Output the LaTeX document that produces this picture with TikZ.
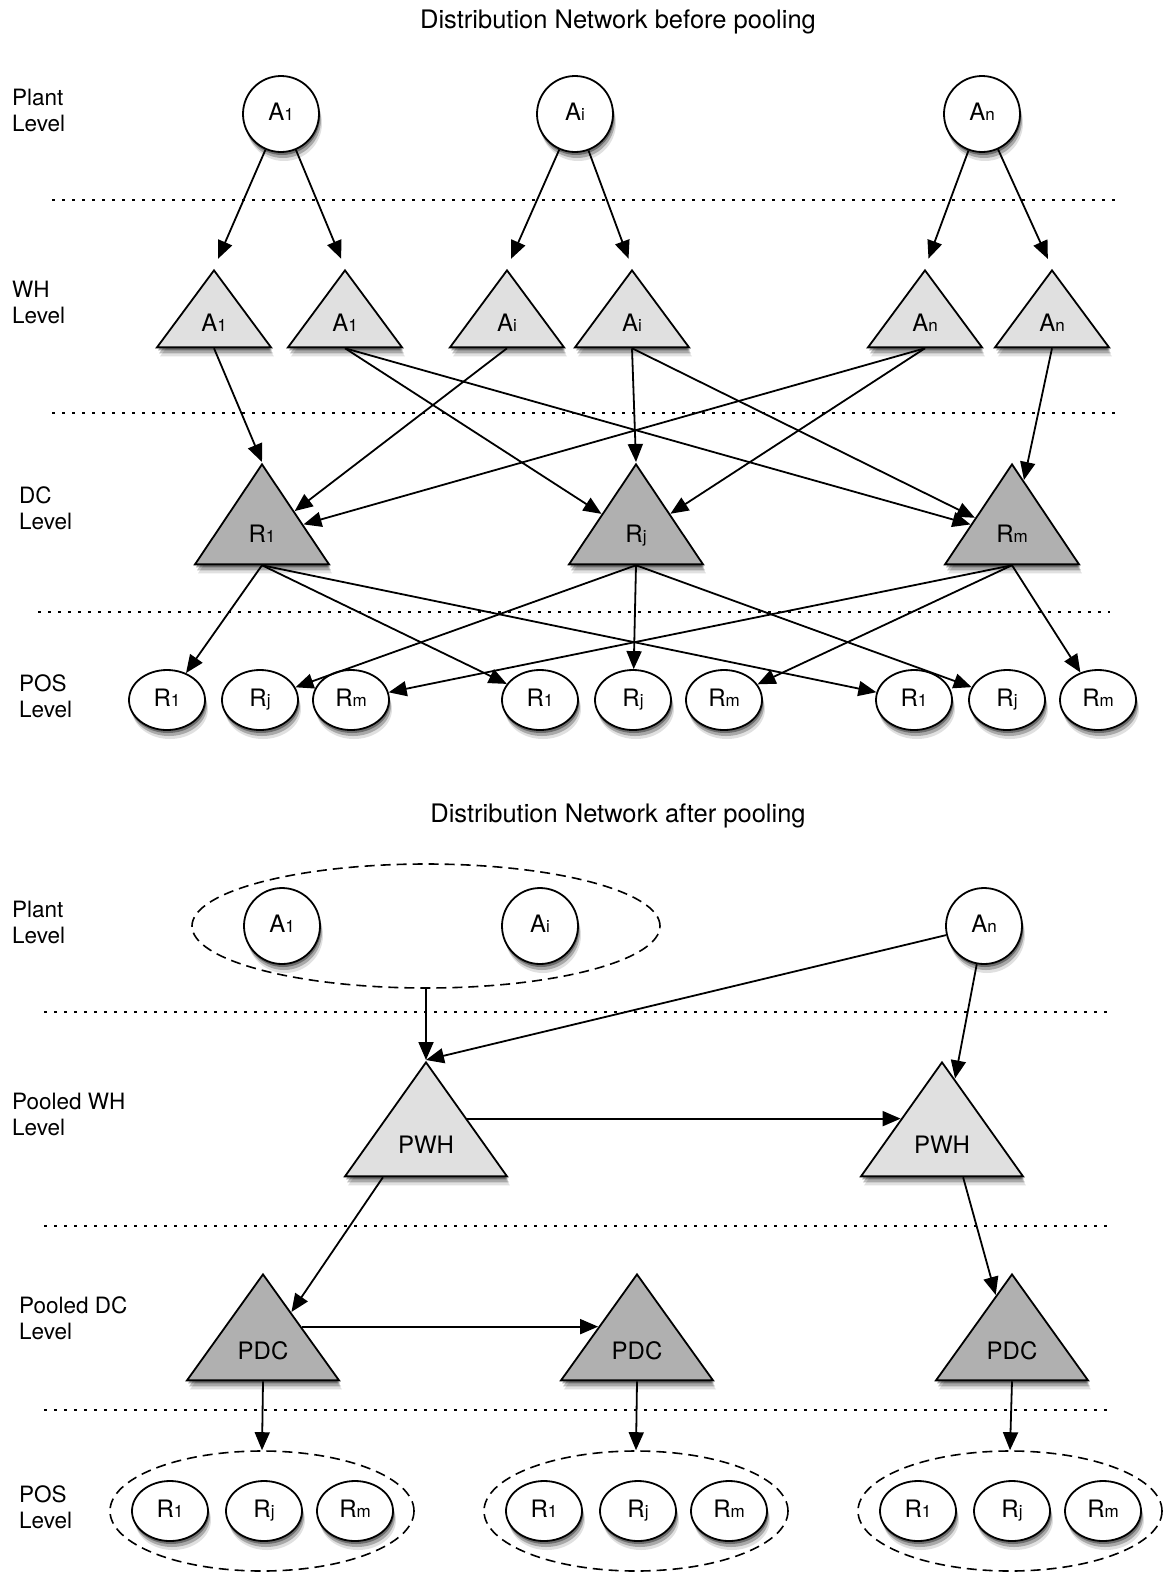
\documentclass[tikz,border=0pt]{standalone}
\usepackage{fontspec}
\setmainfont{TeX Gyre Heros}
\usetikzlibrary{shapes.geometric,shadows,arrows.meta}
\newcommand\ix[1]{{\fontsize{17}{17}\selectfont #1}}
\tikzset{
  shadowed/.style={drop shadow={shadow xshift=1pt,shadow yshift=-3pt,opacity=0.35,fill=black},
    drop shadow={shadow xshift=2pt,shadow yshift=-6pt,opacity=0.25,fill=black},
    drop shadow={shadow xshift=3pt,shadow yshift=-9pt,opacity=0.12,fill=black}},
  plant/.style={circle,draw,fill=white,line width=1.8pt,minimum size=76pt,inner sep=0pt,shadowed,
    text height=17pt,text depth=5pt,font=\fontsize{24}{28}\selectfont},
  shop/.style={ellipse,draw,fill=white,line width=1.8pt,minimum width=76pt,minimum height=60pt,inner sep=0pt,shadowed,
    text height=17pt,text depth=5pt,font=\fontsize{24}{28}\selectfont},
  tri/.style={isosceles triangle,isosceles triangle stretches,shape border rotate=90,draw,line width=1.8pt,inner sep=0pt,
    anchor=apex,shadowed,text height=17pt,text depth=5pt,text width=40pt,align=center,font=\fontsize{24}{28}\selectfont},
  wh/.style={tri,fill=black!12,minimum width=114pt,minimum height=77pt},
  dc/.style={tri,fill=black!31,minimum width=134pt,minimum height=100pt},
  pwh/.style={tri,fill=black!12,text width=60pt,minimum width=162pt,minimum height=114pt},
  pdc/.style={tri,fill=black!31,text width=60pt,minimum width=152pt,minimum height=106pt},
  group/.style={ellipse,draw,line width=1.6pt,dash pattern=on 10pt off 6pt},
  lvl/.style={anchor=west,align=left,inner sep=0pt,font=\fontsize{22.5}{26}\selectfont},
  title/.style={inner sep=0pt,font=\fontsize{25.5}{28}\selectfont},
  sepline/.style={line width=2pt,dash pattern=on 2.5pt off 7.5pt},
  arr/.style={line width=1.8pt,-{Triangle[length=18pt,width=15pt]}}
}
\begin{document}
\begin{tikzpicture}[x=1pt,y=-1pt]
\useasboundingbox (0,0) rectangle (1166,1575);
% before pooling
\node[title] (t1) at (618,22) {Distribution Network before pooling};
\node[lvl] (l1) at (12,110) {Plant\\Level};
\node[lvl] (l2) at (12,302) {WH\\Level};
\node[lvl] (l3) at (19,508) {DC\\Level};
\node[lvl] (l4) at (19,696) {POS\\Level};
\foreach \y in {200,413} \draw[sepline] (52,\y) -- (1122,\y);
\draw[sepline] (38,612) -- (1110,612);
\node[plant] (a1) at (281,114) {A\ix{1}};
\node[plant] (ai) at (575,114) {A\ix{i}};
\node[plant] (an) at (982,114) {A\ix{n}};
\node[wh] (wh1) at (214,268) {A\ix{1}};
\node[wh] (wh2) at (345,268) {A\ix{1}};
\node[wh] (wh3) at (507,268) {A\ix{i}};
\node[wh] (wh4) at (632,268) {A\ix{i}};
\node[wh] (wh5) at (925,268) {A\ix{n}};
\node[wh] (wh6) at (1052,268) {A\ix{n}};
\node[dc] (dc1) at (262,462) {R\ix{1}};
\node[dc] (dc2) at (636,462) {R\ix{j}};
\node[dc] (dc3) at (1012,462) {R\ix{m}};
\foreach \g/\x in {1/167,2/540,3/914} {
  \node[shop] (p\g1) at (\x,700) {R\ix{1}};
  \node[shop] (p\g j) at (\x+93,700) {R\ix{j}};
  \node[shop] (p\g m) at (\x+184,700) {R\ix{m}};
}
\foreach \s/\t in {a1/wh1,a1/wh2,ai/wh3,ai/wh4,an/wh5,an/wh6}
  \draw[arr,shorten >=10pt] (\s) -- (\t.apex);
\draw[arr] (wh1.lower side) -- (dc1.apex);
\draw[arr] (wh2.lower side) -- (dc2);
\draw[arr] (wh2.lower side) -- (dc3);
\draw[arr] (wh3.lower side) -- (dc1);
\draw[arr] (wh4.lower side) -- (dc2.apex);
\draw[arr] (wh4.lower side) -- (dc3);
\draw[arr] (wh5.lower side) -- (dc1);
\draw[arr] (wh5.lower side) -- (dc2);
\draw[arr] (wh6.lower side) -- (dc3);
\foreach \d/\r in {1/1,2/j,3/m}
  \foreach \g in {1,2,3}
    \draw[arr] (dc\d.lower side) -- (p\g\r);
% after pooling
\node[title] (t2) at (618,816) {Distribution Network after pooling};
\node[lvl] (l5) at (12,922) {Plant\\Level};
\node[lvl] (l6) at (12,1114) {Pooled WH\\Level};
\node[lvl] (l7) at (19,1318) {Pooled DC\\Level};
\node[lvl] (l8) at (19,1507) {POS\\Level};
\foreach \y in {1012,1226,1410} \draw[sepline] (44,\y) -- (1114,\y);
\node[group,minimum width=468pt,minimum height=124pt] (pool) at (426,926) {};
\node[plant] (b1) at (282,926) {A\ix{1}};
\node[plant] (bi) at (540,926) {A\ix{i}};
\node[plant] (bn) at (984,926) {A\ix{n}};
\node[pwh] (pwh1) at (426,1060) {PWH};
\node[pwh] (pwh2) at (942,1060) {PWH};
\node[pdc] (pdc1) at (263,1272) {PDC};
\node[pdc] (pdc2) at (637,1272) {PDC};
\node[pdc] (pdc3) at (1012,1272) {PDC};
\foreach \g/\x in {1/170,2/544,3/918} {
  \node[group,minimum width=304pt,minimum height=120pt] (grp\g) at (\x+92,1511) {};
  \node[shop] (q\g1) at (\x,1511) {R\ix{1}};
  \node[shop] (q\g j) at (\x+94,1511) {R\ix{j}};
  \node[shop] (q\g m) at (\x+185,1511) {R\ix{m}};
}
\draw[arr] (pool.south) -- (pwh1.apex);
\draw[arr] (bn) -- (pwh1.apex);
\draw[arr] (bn) -- (pwh2);
\draw[arr] (pwh1.right side) -- (pwh2.left side);
\draw[arr] (pwh1.215) -- (pdc1);
\draw[arr] (pwh2.305) -- (pdc3);
\draw[arr] (pdc1.right side) -- (pdc2.left side);
\foreach \g in {1,2,3}
  \draw[arr] (pdc\g.lower side) -- (grp\g.north);
\end{tikzpicture}
\end{document}
